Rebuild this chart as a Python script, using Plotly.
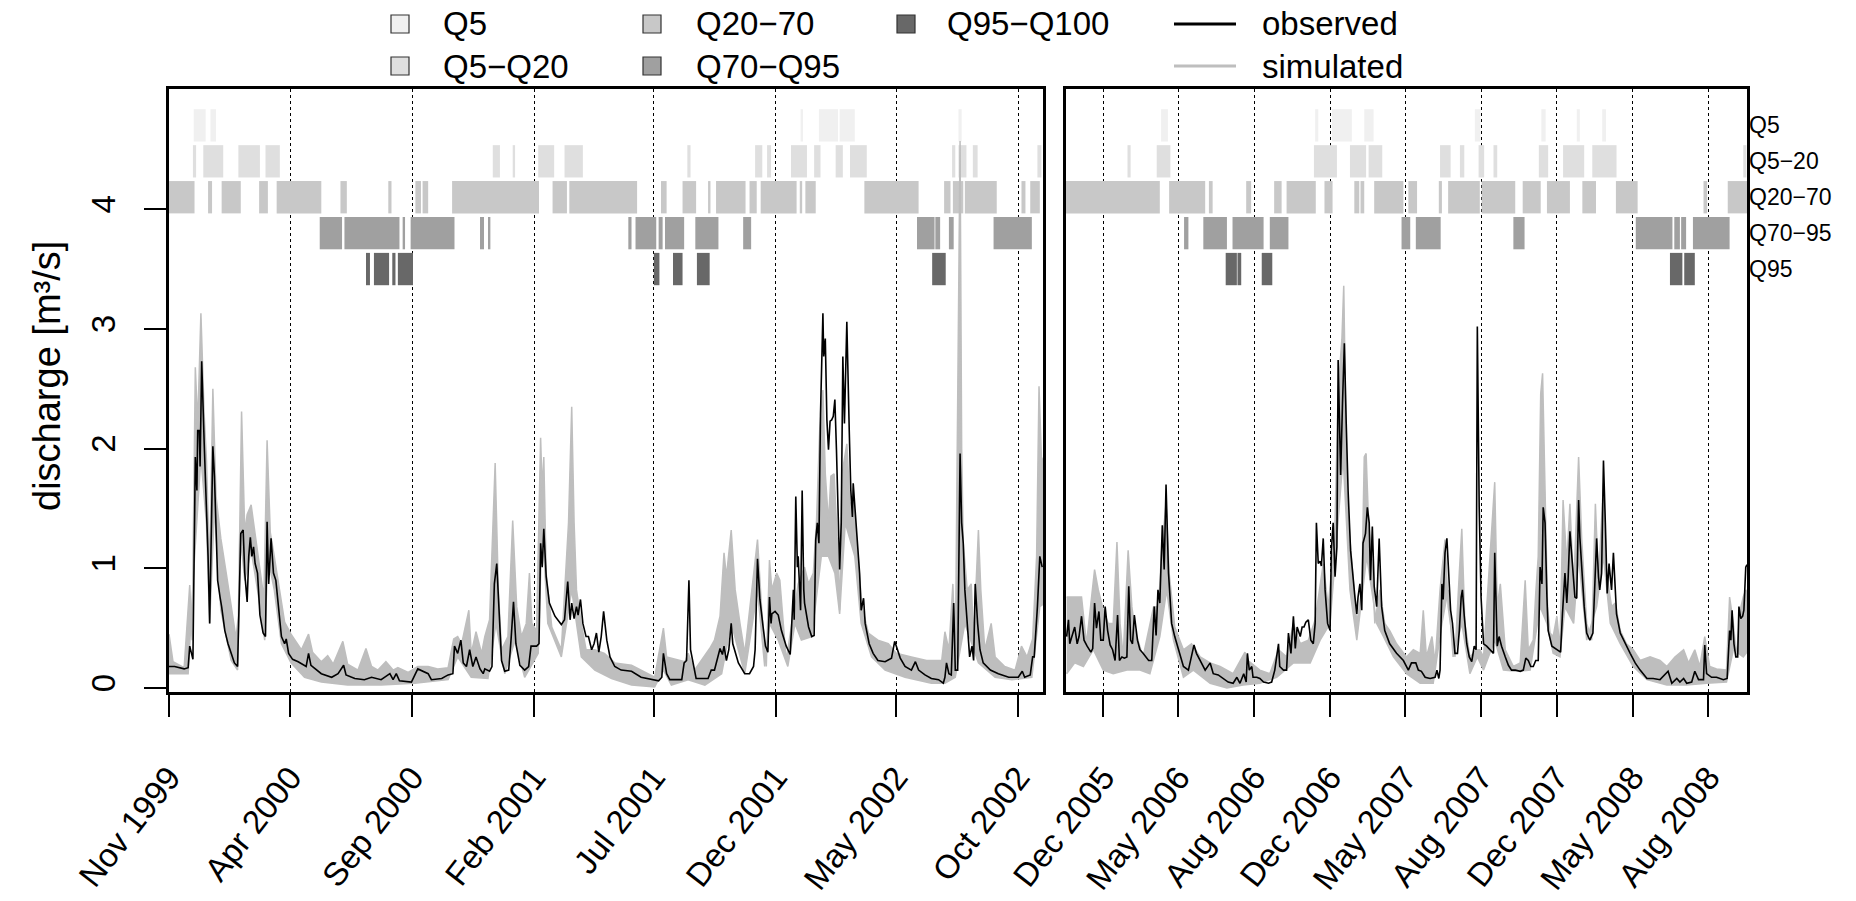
import pandas as pd
import plotly.graph_objects as go

# ---------------- data ----------------
START_A = "1999-11-01"   # left panel start (day 0)
END_A = "2002-11-01"
START_B = "2005-11-01"   # right panel start (day 0)
END_B = "2008-11-01"

# observed discharge, left period: day offset from START_A, value [m3/s]
obsA_day = [0, 7, 19, 24, 26, 29, 30, 33, 35, 36, 38, 39, 41, 44, 47, 49, 51, 53, 55, 57, 59, 61, 64, 66, 70, 74,
            78, 82, 86, 87, 90, 93, 95, 98, 100, 102, 104, 106, 108, 111, 114, 118, 121, 123, 125, 128, 131, 134,
            137, 141, 145, 147, 150, 155, 162, 172, 175, 178, 191, 204, 212, 219, 222, 233, 245, 254, 266, 277,
            281, 285, 289, 304, 312, 319, 325, 329, 342, 350, 356, 358, 362, 366, 369, 373, 377, 381, 385, 390,
            394, 396, 402, 405, 408, 411, 414, 417, 421, 426, 429, 432, 435, 440, 446, 451, 454, 461, 464, 466,
            468, 470, 473, 477, 484, 492, 496, 500, 503, 505, 508, 511, 513, 516, 519, 523, 526, 530, 533, 536,
            539, 542, 545, 549, 553, 559, 567, 580, 592, 609, 614, 618, 620, 624, 628, 643, 646, 649, 652, 654,
            657, 661, 668, 676, 680, 684, 691, 694, 696, 699, 702, 705, 707, 714, 722, 728, 733, 735, 738, 741,
            745, 748, 751, 753, 755, 756, 760, 764, 768, 774, 779, 781, 783, 784, 786, 788, 789, 792, 794, 796,
            797, 802, 806, 809, 811, 813, 815, 817, 820, 821, 823, 825, 827, 829, 831, 833, 835, 837, 839, 841,
            843, 845, 847, 850, 853, 855, 857, 858, 861, 863, 866, 868, 871, 873, 878, 883, 889, 898, 906, 910,
            914, 917, 923, 931, 936, 940, 948, 956, 965, 971, 973, 975, 978, 981, 984, 986, 989, 992, 994, 996,
            998, 1001, 1004, 1007, 1009, 1011, 1014, 1017, 1021, 1030, 1040, 1053, 1065, 1070, 1073, 1080, 1083,
            1085, 1089, 1092, 1095]
obsA_val = [0.18, 0.18, 0.16, 0.17, 0.35, 0.25, 0.24, 1.93, 1.65, 2.15, 2.15, 1.85, 2.73, 2.07, 1.51, 1.10, 0.54,
            1.24, 2.02, 1.77, 1.38, 0.90, 0.76, 0.68, 0.48, 0.37, 0.29, 0.21, 0.18, 0.54, 1.29, 1.32, 0.96, 0.72,
            1.10, 1.26, 1.10, 1.18, 1.04, 0.96, 0.61, 0.46, 0.43, 1.39, 0.87, 1.25, 0.96, 0.90, 0.68, 0.43, 0.37,
            0.41, 0.29, 0.24, 0.22, 0.18, 0.29, 0.19, 0.12, 0.09, 0.12, 0.19, 0.11, 0.08, 0.07, 0.09, 0.07, 0.12,
            0.07, 0.12, 0.06, 0.05, 0.16, 0.14, 0.12, 0.07, 0.08, 0.11, 0.12, 0.35, 0.29, 0.40, 0.21, 0.18, 0.32,
            0.18, 0.26, 0.16, 0.12, 0.16, 0.14, 0.18, 0.87, 1.04, 0.68, 0.23, 0.14, 0.15, 0.41, 0.72, 0.37, 0.19,
            0.15, 0.18, 0.35, 0.35, 0.37, 1.21, 1.01, 1.33, 0.93, 0.71, 0.60, 0.53, 0.57, 0.89, 0.57, 0.71, 0.58,
            0.68, 0.61, 0.74, 0.54, 0.43, 0.43, 0.32, 0.37, 0.46, 0.30, 0.43, 0.64, 0.40, 0.26, 0.18, 0.15, 0.14,
            0.09, 0.07, 0.06, 0.09, 0.29, 0.12, 0.07, 0.07, 0.21, 0.23, 0.90, 0.32, 0.21, 0.08, 0.08, 0.08, 0.15,
            0.15, 0.33, 0.28, 0.35, 0.23, 0.32, 0.54, 0.37, 0.21, 0.12, 0.12, 0.18, 0.32, 1.08, 0.74, 0.51, 0.35,
            0.30, 0.76, 0.54, 0.62, 0.64, 0.61, 0.48, 0.35, 0.28, 0.54, 0.82, 0.57, 1.60, 1.01, 1.10, 0.65, 1.65,
            0.82, 0.71, 0.51, 0.43, 0.44, 1.24, 1.38, 1.21, 2.29, 3.13, 2.77, 2.92, 2.24, 1.99, 2.23, 2.24, 2.27,
            2.41, 1.99, 1.51, 0.99, 1.38, 2.77, 2.21, 3.06, 2.16, 1.65, 1.43, 1.71, 1.43, 1.24, 0.96, 0.65, 0.75,
            0.54, 0.37, 0.29, 0.23, 0.22, 0.25, 0.39, 0.32, 0.25, 0.18, 0.15, 0.22, 0.15, 0.11, 0.08, 0.07, 0.04,
            0.09, 0.21, 0.12, 0.11, 0.71, 0.15, 0.15, 1.96, 1.38, 1.21, 0.82, 0.54, 0.26, 0.35, 0.23, 0.87, 0.54,
            0.32, 0.21, 0.15, 0.12, 0.09, 0.09, 0.14, 0.09, 0.11, 0.26, 0.26, 0.68, 1.10, 1.01]

# simulated discharge envelope (upper / lower members), left period
simA_hi_day = [0, 5, 19, 26, 29, 33, 36, 40, 44, 47, 51, 55, 59, 65, 72, 78, 84, 87, 91, 95, 98, 103, 108, 114,
               119, 123, 127, 132, 139, 145, 153, 166, 175, 180, 191, 199, 206, 218, 224, 237, 247, 254, 262, 272,
               281, 287, 300, 312, 325, 337, 350, 357, 362, 367, 376, 379, 385, 392, 396, 402, 409, 413, 417, 425,
               431, 436, 442, 448, 452, 455, 461, 466, 468, 470, 473, 480, 492, 498, 501, 505, 508, 511, 517, 523,
               534, 546, 559, 580, 609, 620, 624, 647, 651, 659, 678, 684, 691, 696, 699, 705, 710, 716, 722, 738,
               743, 749, 753, 756, 762, 766, 774, 781, 785, 789, 797, 802, 808, 812, 816, 820, 823, 827, 830, 834,
               838, 841, 844, 850, 854, 858, 864, 869, 877, 889, 902, 912, 931, 950, 969, 973, 978, 983, 986, 992,
               994, 996, 1001, 1006, 1009, 1012, 1015, 1018, 1023, 1031, 1036, 1048, 1061, 1069, 1076, 1083, 1088,
               1091, 1094, 1096]
simA_hi_val = [0.45, 0.22, 0.17, 0.86, 0.40, 2.68, 2.20, 3.13, 2.30, 1.90, 0.96, 2.50, 1.60, 1.25, 0.95, 0.68,
               0.42, 0.60, 2.31, 1.30, 1.45, 1.53, 1.30, 1.00, 0.75, 2.07, 1.30, 1.10, 0.80, 0.55, 0.45, 0.32, 0.45,
               0.30, 0.22, 0.27, 0.20, 0.39, 0.20, 0.15, 0.33, 0.18, 0.15, 0.22, 0.15, 0.17, 0.13, 0.18, 0.18, 0.16,
               0.17, 0.41, 0.43, 0.37, 0.65, 0.29, 0.47, 0.29, 0.43, 0.57, 1.88, 0.82, 0.32, 0.43, 1.40, 0.68, 0.43,
               0.54, 0.96, 0.54, 0.48, 2.09, 1.65, 1.93, 0.96, 0.51, 0.32, 1.10, 1.38, 2.35, 1.38, 0.82, 0.54, 0.32,
               0.32, 0.29, 0.21, 0.19, 0.09, 0.50, 0.26, 0.22, 0.29, 0.15, 0.33, 0.40, 0.60, 1.13, 0.93, 1.32, 0.82,
               0.54, 0.29, 1.24, 0.68, 0.18, 1.07, 0.82, 0.96, 0.90, 0.23, 0.54, 0.68, 0.87, 1.01, 0.87, 0.96, 1.40,
               2.16, 2.49, 1.79, 1.38, 1.77, 1.79, 1.24, 0.65, 1.79, 2.04, 1.51, 1.60, 1.10, 0.68, 0.46, 0.40, 0.37,
               0.29, 0.26, 0.23, 0.23, 0.47, 0.32, 0.87, 0.21, 4.57, 2.00, 1.21, 0.82, 0.87, 0.40, 0.87, 1.32, 0.82,
               0.32, 0.54, 0.26, 0.18, 0.15, 0.35, 0.26, 0.41, 1.10, 2.52, 1.93, 1.90]
simA_lo_day = [0, 24, 32, 40, 47, 51, 57, 65, 78, 86, 90, 95, 103, 111, 120, 124, 132, 141, 153, 170, 191, 224,
               266, 308, 350, 362, 379, 400, 410, 421, 434, 446, 463, 468, 475, 492, 505, 517, 534, 555, 580, 609,
               620, 630, 651, 672, 693, 705, 722, 738, 747, 753, 764, 776, 785, 793, 806, 818, 827, 835, 841, 848,
               860, 868, 881, 898, 923, 956, 973, 986, 998, 1015, 1036, 1057, 1082, 1092, 1096]
simA_lo_val = [0.12, 0.12, 1.09, 1.93, 1.37, 0.54, 1.51, 0.65, 0.23, 0.15, 1.24, 0.90, 1.15, 0.82, 0.40, 1.09,
               0.82, 0.37, 0.21, 0.09, 0.05, 0.025, 0.025, 0.04, 0.07, 0.26, 0.09, 0.08, 0.54, 0.12, 0.40, 0.09,
               0.29, 1.38, 0.54, 0.26, 0.82, 0.26, 0.15, 0.08, 0.025, 0.01, 0.15, 0.025, 0.07, 0.025, 0.12, 0.54,
               0.12, 0.82, 0.18, 0.54, 0.40, 0.18, 0.54, 0.40, 0.43, 1.10, 1.10, 0.96, 0.62, 1.38, 1.10, 0.54, 0.26,
               0.15, 0.09, 0.04, 0.04, 0.09, 0.54, 0.21, 0.09, 0.07, 0.09, 0.68, 0.70]

# observed discharge, right period: day offset from START_B
obsB_day = [1, 4, 6, 11, 14, 18, 21, 25, 29, 34, 40, 43, 46, 49, 53, 56, 60, 63, 67, 71, 75, 79, 83, 86, 90, 94,
            98, 101, 104, 107, 110, 115, 119, 124, 129, 133, 138, 142, 145, 148, 151, 155, 158, 161, 165, 170, 175,
            181, 189, 197, 202, 206, 210, 216, 224, 232, 237, 245, 253, 261, 269, 275, 280, 286, 290, 292, 295, 299,
            301, 307, 312, 318, 326, 331, 336, 342, 344, 350, 355, 358, 362, 366, 369, 372, 377, 380, 383, 386, 390,
            394, 398, 401, 403, 406, 409, 411, 414, 417, 421, 425, 427, 430, 433, 436, 438, 442, 445, 448, 451, 454,
            458, 462, 465, 468, 470, 473, 476, 478, 482, 485, 488, 490, 493, 496, 500, 504, 508, 513, 521, 532, 543,
            551, 556, 563, 567, 572, 578, 586, 594, 597, 600, 602, 605, 607, 610, 613, 616, 619, 622, 626, 630, 633,
            636, 638, 641, 645, 649, 653, 657, 660, 662, 665, 668, 672, 677, 682, 688, 690, 694, 697, 701, 707, 712,
            717, 723, 731, 736, 740, 744, 748, 752, 756, 760, 763, 766, 768, 771, 774, 776, 782, 790, 796, 799, 803,
            806, 808, 811, 815, 819, 822, 825, 827, 830, 834, 838, 843, 848, 851, 854, 857, 859, 862, 865, 868, 871,
            874, 878, 881, 886, 892, 900, 908, 916, 924, 935, 945, 956, 964, 969, 975, 983, 988, 994, 999, 1007,
            1012, 1018, 1026, 1028, 1031, 1039, 1047, 1058, 1064, 1068, 1070, 1072, 1075, 1078, 1081, 1083, 1086,
            1089, 1091, 1094, 1096]
obsB_val = [0.43, 0.57, 0.37, 0.46, 0.51, 0.37, 0.43, 0.60, 0.40, 0.35, 0.30, 0.33, 0.71, 0.50, 0.64, 0.40, 0.40,
            0.68, 0.48, 0.36, 0.32, 0.23, 0.61, 0.23, 0.26, 0.25, 0.26, 0.85, 0.40, 0.37, 0.61, 0.40, 0.32, 0.29,
            0.26, 0.23, 0.23, 0.68, 0.44, 0.82, 0.71, 1.36, 0.99, 1.70, 0.96, 0.54, 0.43, 0.32, 0.18, 0.15, 0.26,
            0.36, 0.29, 0.23, 0.15, 0.21, 0.12, 0.11, 0.08, 0.05, 0.04, 0.09, 0.04, 0.12, 0.05, 0.29, 0.15, 0.18,
            0.09, 0.09, 0.08, 0.05, 0.04, 0.05, 0.15, 0.37, 0.18, 0.15, 0.15, 0.46, 0.29, 0.60, 0.33, 0.51, 0.43,
            0.51, 0.51, 0.55, 0.57, 0.40, 0.37, 0.54, 1.38, 1.04, 1.06, 1.02, 1.25, 0.82, 0.54, 0.48, 1.15, 1.38,
            0.93, 1.18, 2.74, 1.78, 2.38, 2.88, 2.21, 1.65, 1.15, 0.90, 0.76, 0.62, 0.76, 0.87, 0.65, 1.21, 1.29,
            1.51, 1.38, 0.90, 1.35, 0.85, 0.68, 1.25, 0.68, 0.48, 0.37, 0.29, 0.23, 0.15, 0.21, 0.21, 0.15, 0.14,
            0.09, 0.08, 0.09, 0.15, 0.08, 0.15, 0.87, 0.74, 1.13, 1.25, 0.96, 0.65, 0.54, 0.29, 0.29, 0.48, 0.76,
            0.82, 0.60, 0.37, 0.26, 0.22, 0.35, 0.32, 3.02, 1.51, 0.76, 0.37, 0.35, 0.32, 0.29, 1.13, 0.35, 0.43,
            0.35, 0.26, 0.19, 0.15, 0.15, 0.14, 0.15, 0.25, 0.23, 0.18, 0.18, 0.23, 0.23, 1.01, 0.87, 1.51, 1.38,
            0.76, 0.48, 0.35, 0.32, 0.30, 0.62, 0.96, 0.71, 0.90, 1.31, 1.01, 0.76, 0.75, 1.57, 1.26, 0.99, 0.68,
            0.46, 0.40, 0.46, 0.82, 1.25, 0.93, 0.82, 0.96, 1.90, 1.38, 0.79, 1.04, 0.82, 1.13, 0.62, 0.46, 0.37,
            0.29, 0.21, 0.15, 0.08, 0.08, 0.07, 0.11, 0.14, 0.04, 0.08, 0.05, 0.08, 0.04, 0.05, 0.14, 0.07, 0.07,
            0.36, 0.12, 0.09, 0.09, 0.07, 0.08, 0.48, 0.40, 0.65, 0.37, 0.26, 0.26, 0.68, 0.58, 0.60, 0.65, 1.01,
            1.03]

# simulated envelope, right period
simB_hi_day = [1, 14, 25, 33, 46, 52, 60, 68, 76, 82, 87, 92, 100, 106, 111, 124, 141, 149, 154, 161, 166, 175,
               189, 202, 216, 232, 248, 269, 288, 293, 312, 328, 342, 355, 366, 377, 390, 401, 406, 414, 422, 427,
               433, 438, 444, 447, 452, 457, 468, 476, 480, 483, 487, 492, 497, 505, 513, 521, 532, 548, 559, 570,
               575, 580, 589, 594, 602, 610, 615, 626, 633, 637, 642, 650, 661, 666, 672, 690, 694, 699, 707, 720,
               731, 739, 744, 752, 756, 760, 764, 767, 771, 775, 779, 784, 790, 795, 800, 806, 811, 817, 825, 830,
               838, 846, 852, 857, 865, 870, 878, 884, 892, 902, 913, 924, 940, 956, 967, 980, 994, 1002, 1012, 1020,
               1028, 1036, 1047, 1063, 1068, 1074, 1079, 1085, 1090, 1094, 1096]
simB_hi_val = [0.76, 0.76, 0.76, 0.37, 0.99, 0.82, 0.65, 0.54, 0.54, 1.22, 0.54, 0.26, 1.15, 0.68, 0.48, 0.26,
               0.68, 0.68, 1.15, 1.54, 0.96, 0.51, 0.32, 0.37, 0.26, 0.21, 0.18, 0.12, 0.30, 0.23, 0.15, 0.12, 0.32,
               0.26, 0.54, 0.37, 0.40, 0.57, 0.74, 1.04, 0.68, 0.96, 1.38, 2.49, 2.91, 3.36, 1.65, 1.24, 0.54, 0.82,
               1.93, 1.96, 1.38, 1.10, 0.54, 0.82, 0.54, 0.48, 0.37, 0.26, 0.32, 0.29, 0.65, 0.26, 0.43, 0.21, 0.82,
               1.24, 0.68, 0.26, 0.96, 1.33, 0.54, 0.26, 0.32, 0.32, 0.26, 1.72, 0.68, 0.87, 0.32, 0.18, 0.21, 0.90,
               0.32, 0.40, 0.79, 1.10, 2.46, 2.63, 1.65, 0.68, 0.46, 0.43, 0.60, 0.32, 1.57, 1.04, 1.54, 0.82, 1.93,
               1.24, 0.54, 0.40, 1.54, 0.90, 1.71, 0.96, 0.68, 0.71, 0.48, 0.37, 0.32, 0.23, 0.26, 0.23, 0.18, 0.26,
               0.32, 0.21, 0.32, 0.18, 0.43, 0.18, 0.16, 0.15, 0.76, 0.54, 0.26, 0.65, 0.76, 0.82, 0.80]
simB_lo_day = [1, 14, 28, 44, 60, 76, 98, 119, 135, 151, 162, 173, 189, 205, 232, 259, 285, 312, 339, 366, 393,
               409, 425, 438, 446, 457, 468, 484, 500, 511, 527, 548, 570, 591, 605, 615, 623, 637, 650, 662, 672,
               690, 704, 725, 747, 763, 774, 784, 795, 803, 817, 825, 838, 854, 865, 876, 892, 913, 935, 967, 999,
               1031, 1063, 1074, 1090, 1096]
simB_lo_val = [0.12, 0.21, 0.18, 0.32, 0.15, 0.12, 0.15, 0.15, 0.12, 0.43, 0.82, 0.40, 0.09, 0.15, 0.04, 0.00,
               0.025, 0.04, 0.09, 0.21, 0.21, 0.40, 0.54, 1.38, 1.93, 0.82, 0.40, 1.10, 0.54, 0.43, 0.26, 0.12, 0.04,
               0.04, 0.54, 0.82, 0.26, 0.54, 0.12, 0.26, 0.15, 0.40, 0.15, 0.14, 0.15, 0.68, 0.54, 0.29, 0.26, 0.68,
               0.54, 1.10, 0.40, 0.68, 1.10, 0.54, 0.37, 0.18, 0.07, 0.025, 0.025, 0.04, 0.05, 0.32, 0.26, 0.30]

# flow-class periods [start day, end day]
q5_A = [[31, 46], [52, 59], [792, 795], [815, 839], [841, 860], [990, 994]]
q5_20_A = [[30, 34], [43, 68], [87, 114], [121, 139], [406, 415], [431, 434], [463, 483], [496, 519], [650, 654],
           [735, 744], [750, 755], [780, 800], [809, 817], [836, 845], [854, 875], [982, 986], [990, 1000],
           [1008, 1014], [1089, 1094]]
q20_70_A = [[0, 32], [49, 54], [66, 90], [113, 124], [135, 191], [215, 223], [275, 279], [309, 316], [318, 325],
            [355, 464], [481, 499], [502, 587], [617, 624], [644, 661], [676, 679], [686, 723], [728, 737],
            [742, 787], [791, 794], [798, 811], [872, 940], [972, 980], [983, 996], [998, 1038], [1069, 1074],
            [1080, 1092]]
q70_95_A = [[189, 217], [220, 289], [293, 296], [303, 358], [390, 395], [400, 403], [576, 580], [585, 611],
            [614, 619], [622, 646], [660, 689], [720, 730], [938, 960], [961, 967], [978, 984], [1034, 1082]]
q95_A = [[247, 252], [257, 276], [280, 284], [287, 306], [608, 615], [632, 644], [662, 678], [957, 974]]

q5_B = [[153, 164], [401, 406], [428, 460], [480, 495], [658, 667], [765, 772], [822, 827], [863, 869]]
q5_20_B = [[99, 104], [146, 168], [399, 436], [457, 483], [487, 509], [602, 619], [634, 641], [664, 673],
           [688, 694], [761, 776], [800, 834], [847, 886], [1090, 1095]]
q20_70_B = [[0, 151], [166, 224], [230, 236], [290, 298], [335, 347], [355, 402], [416, 429], [464, 472],
            [474, 480], [496, 543], [551, 565], [600, 605], [615, 666], [669, 723], [735, 764], [774, 811],
            [831, 853], [885, 920], [1026, 1032], [1065, 1096]]
q70_95_B = [[190, 197], [221, 259], [268, 318], [328, 358], [540, 554], [563, 603], [720, 738], [917, 976],
            [979, 988], [990, 998], [1009, 1068]]
q95_B = [[257, 275], [276, 282], [315, 332], [972, 992], [995, 1012]]

class_names = ["Q5", "Q5\u2212Q20", "Q20\u221270", "Q70\u2212Q95", "Q95\u2212Q100"]
row_labels = ["Q5", "Q5\u221220", "Q20\u221270", "Q70\u221295", "Q95"]
row_levels = [4.7, 4.4, 4.1, 3.8, 3.5]
series_names = ["observed", "simulated"]

left_ticks = ["1999-11-01", "2000-04-01", "2000-09-01", "2001-02-01", "2001-07-01", "2001-12-01", "2002-05-01",
              "2002-10-01"]
left_labels = ["Nov 1999", "Apr 2000", "Sep 2000", "Feb 2001", "Jul 2001", "Dec 2001", "May 2002", "Oct 2002"]
right_ticks = ["2005-12-31", "2006-05-01", "2006-08-31", "2006-12-31", "2007-05-01", "2007-08-31", "2007-12-31",
               "2008-05-01", "2008-08-31"]
right_labels = ["Dec 2005", "May 2006", "Aug 2006", "Dec 2006", "May 2007", "Aug 2007", "Dec 2007", "May 2008",
                "Aug 2008"]

# ---------------- styling ----------------
FONT = "Liberation Sans, Arial, Helvetica, sans-serif"
class_colors = ["#F0F0F0", "#DFDFDF", "#C8C8C8", "#A0A0A0", "#686868"]
SIM = "#BEBEBE"
HALF = 0.135

W, H = 1856, 901
ML, MR, MT, MB = 169, 109, 89, 209
PW = W - ML - MR
PH = H - MT - MB


def px(xs):
    """figure x (pixels) -> paper x"""
    return (xs - ML) / PW


def py(ys):
    """figure y (pixels from top) -> paper y"""
    return (H - MB - ys) / PH


def to_dates(start, days):
    s = pd.Timestamp(start)
    return [s + pd.Timedelta(days=d) for d in days]


fig = go.Figure()


def add_bands(start, segs_list, xa, ya):
    s = pd.Timestamp(start)
    for segs, lev, col, nm in zip(segs_list, row_levels, class_colors, class_names):
        mids = [s + pd.Timedelta(days=(a + b) / 2) for a, b in segs]
        widths = [(b - a) * 86400000 for a, b in segs]
        n = len(segs)
        fig.add_trace(go.Bar(x=mids, y=[2 * HALF] * n, base=[lev - HALF] * n, width=widths, name=nm,
                             marker=dict(color=col, line=dict(width=0)), xaxis=xa, yaxis=ya,
                             showlegend=False, hoverinfo="skip"))


def add_lines(start, od, ov, hd, hv, ld, lv, xa, ya):
    fig.add_trace(go.Scatter(x=to_dates(start, ld), y=lv, mode="lines", line=dict(color=SIM, width=1.5),
                             xaxis=xa, yaxis=ya, showlegend=False, hoverinfo="skip", name="simulated"))
    fig.add_trace(go.Scatter(x=to_dates(start, hd), y=hv, mode="lines", line=dict(color=SIM, width=1.5),
                             fill="tonexty", fillcolor=SIM, xaxis=xa, yaxis=ya, showlegend=False,
                             hoverinfo="skip", name="simulated"))
    fig.add_trace(go.Scatter(x=to_dates(start, od), y=ov, mode="lines", line=dict(color="black", width=1.6),
                             xaxis=xa, yaxis=ya, showlegend=False, name="observed"))


add_bands(START_A, [q5_A, q5_20_A, q20_70_A, q70_95_A, q95_A], "x", "y")
add_bands(START_B, [q5_B, q5_20_B, q20_70_B, q70_95_B, q95_B], "x2", "y2")
add_lines(START_A, obsA_day, obsA_val, simA_hi_day, simA_hi_val, simA_lo_day, simA_lo_val, "x", "y")
add_lines(START_B, obsB_day, obsB_val, simB_hi_day, simB_hi_val, simB_lo_day, simB_lo_val, "x2", "y2")

# ---------------- legend (drawn in paper space) ----------------
legend_font = dict(size=33, color="black", family=FONT)
box_left = [391, 391, 643, 643, 897]
text_left = [444, 444, 697, 697, 948]
row_y = [24, 66, 24, 66, 24]
BOX = 18
for name, col, bx, tx, ry in zip(class_names, class_colors, box_left, text_left, row_y):
    fig.add_shape(type="rect", xref="paper", yref="paper", x0=px(bx), x1=px(bx + BOX),
                  y0=py(ry + BOX / 2), y1=py(ry - BOX / 2), fillcolor=col,
                  line=dict(color="#333333", width=1.2), layer="above")
    fig.add_annotation(text=name, xref="paper", yref="paper", x=px(tx - 3), y=py(ry), xanchor="left",
                       yanchor="middle", showarrow=False, font=legend_font)
for name, col, ry in zip(series_names, ["black", SIM], [24, 66]):
    fig.add_shape(type="line", xref="paper", yref="paper", x0=px(1174), x1=px(1236), y0=py(ry), y1=py(ry),
                  line=dict(color=col, width=3.2), layer="above")
    fig.add_annotation(text=name, xref="paper", yref="paper", x=px(1260), y=py(ry), xanchor="left",
                       yanchor="middle", showarrow=False, font=legend_font)

# right-hand row labels
for lab, lev in zip(row_labels, row_levels):
    fig.add_annotation(text=lab, x=1.0, xref="paper", y=lev, yref="y2", xanchor="left", yanchor="middle",
                       showarrow=False, font=dict(size=23, color="black", family=FONT))

# y-axis title
fig.add_annotation(text="discharge [m\u00b3/s]", xref="paper", yref="paper", x=px(47), y=py(376),
                   xanchor="center", yanchor="middle", textangle=-90, showarrow=False,
                   font=dict(size=38, color="black", family=FONT))

axis_common = dict(showline=True, linewidth=2.5, linecolor="black", mirror=True, zeroline=False)
xcommon = dict(axis_common, type="date", ticks="outside", ticklen=22, tickwidth=2, tickcolor="black",
               tickangle=-52, tickfont=dict(size=33, color="black", family=FONT), showgrid=True,
               gridcolor="black", griddash="dot", gridwidth=1, ticklabelstandoff=28, automargin=False)

fig.update_layout(
    width=W, height=H, margin=dict(l=ML, r=MR, t=MT, b=MB, autoexpand=False), plot_bgcolor="white",
    paper_bgcolor="white", barmode="overlay", font=dict(family=FONT, color="black"), showlegend=False,
    xaxis=dict(xcommon, domain=[0, px(1043)], range=[START_A, END_A], tickvals=left_ticks, ticktext=left_labels),
    xaxis2=dict(xcommon, domain=[px(1066), 1], range=[START_B, END_B], tickvals=right_ticks,
                ticktext=right_labels),
    yaxis=dict(axis_common, range=[-0.033, 5.004], tickvals=[0, 1, 2, 3, 4], ticks="outside", ticklen=22,
               tickwidth=2, tickcolor="black", tickangle=-90, tickfont=dict(size=33, color="black", family=FONT),
               showgrid=False, ticklabelstandoff=16, automargin=False),
    yaxis2=dict(axis_common, range=[-0.033, 5.004], anchor="x2", showticklabels=False, ticks="",
                showgrid=False, automargin=False),
)

# the page is exactly the figure: drop the browser's default 8px body margin
fig.write_html("out.html", config={"displayModeBar": False},
               post_script="document.body.style.margin='0px';")
